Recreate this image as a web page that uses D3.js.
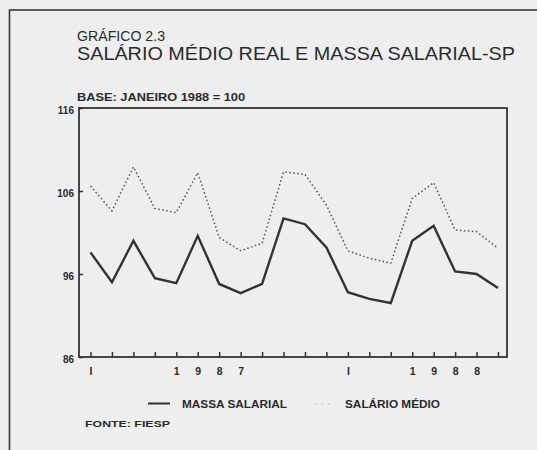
<!DOCTYPE html>
<html>
<head>
<meta charset="utf-8">
<script src="https://cdn.jsdelivr.net/npm/d3@7"></script>
<style>
  body { margin: 0; background: #eeeeee; }
  svg { display: block; }
  text { font-family: "Liberation Sans", Arial, sans-serif; fill: #2b2b2b; }
</style>
</head>
<body>
<div id="chart"></div>
<script>
// Months Jan 1987 .. Aug 1988
const months = ["jan/87","fev/87","mar/87","abr/87","mai/87","jun/87","jul/87","ago/87","set/87","out/87",
    "nov/87","dez/87","jan/88","fev/88","mar/88","abr/88","mai/88","jun/88","jul/88","ago/88"];
// Spaced-out year labels under the ticks
const tickLabels = ["I","","","","1","9","8","7","","","","","I","","","1","9","8","8",""];
const yTicks = [86, 96, 106, 116];

// Series values (index, base jan 1988 = 100)
const massaSalarial = [98.6, 95.0, 100.0, 95.5, 94.9, 100.6, 94.8, 93.7, 94.8, 102.7,
    102.0, 99.2, 93.8, 93.0, 92.5, 100.0, 101.8, 96.3, 96.0, 94.3];
const salarioMedio = [106.6, 103.6, 108.9, 103.9, 103.4, 108.2, 100.4, 98.8, 99.7, 108.3,
    108.0, 104.3, 98.8, 97.9, 97.3, 105.1, 107.0, 101.3, 101.1, 99.1];

const width = 537;
const height = 450;
const plot = { left: 79, right: 507, top: 108, bottom: 357 };

const svg = d3.select("#chart")
    .append("svg")
    .attr("width", width)
    .attr("height", height);

// outer frame (only top and left edges show in the picture)
svg.append("rect")
    .attr("x", 9.5).attr("y", 10)
    .attr("width", 600).attr("height", 600)
    .attr("fill", "none")
    .attr("stroke", "#3a3a3a")
    .attr("stroke-width", 1.6);

// titles
svg.append("text")
    .attr("x", 77).attr("y", 41)
    .style("font-size", "15px")
    .attr("textLength", 88).attr("lengthAdjust", "spacingAndGlyphs")
    .text("GRÁFICO 2.3");
svg.append("text")
    .attr("x", 77).attr("y", 60)
    .style("font-size", "18.5px")
    .attr("textLength", 438).attr("lengthAdjust", "spacingAndGlyphs")
    .text("SALÁRIO MÉDIO REAL E MASSA SALARIAL-SP");
svg.append("text")
    .attr("x", 77).attr("y", 101)
    .style("font-size", "10.5px").style("font-weight", "bold")
    .attr("textLength", 168).attr("lengthAdjust", "spacingAndGlyphs")
    .text("BASE: JANEIRO 1988 = 100");

// scales
const x = d3.scalePoint()
    .domain(months)
    .range([plot.left + 11.5, plot.right - 9]);
const y = d3.scaleLinear()
    .domain([86, 116])
    .range([plot.bottom, plot.top]);

// plot box
svg.append("rect")
    .attr("x", plot.left).attr("y", plot.top)
    .attr("width", plot.right - plot.left)
    .attr("height", plot.bottom - plot.top)
    .attr("fill", "none")
    .attr("stroke", "#333")
    .attr("stroke-width", 1.8);

// x axis: ticks point upward into the plot
const xAxis = svg.append("g")
    .attr("transform", `translate(0,${plot.bottom})`)
    .call(d3.axisBottom(x).tickSize(-5).tickPadding(11)
        .tickFormat((d, i) => tickLabels[i]));
xAxis.select(".domain").remove();
xAxis.selectAll(".tick line").attr("stroke", "#333").attr("stroke-width", 1.5);
xAxis.selectAll("text")
    .style("font-size", "10.5px").style("font-weight", "bold")
    .attr("fill", "#2b2b2b");

// y axis: small inward ticks
const yAxis = svg.append("g")
    .attr("transform", `translate(${plot.left},0)`)
    .call(d3.axisLeft(y).tickValues(yTicks).tickSize(-4).tickPadding(5));
yAxis.select(".domain").remove();
yAxis.selectAll(".tick line").attr("stroke", "#333").attr("stroke-width", 1.5);
yAxis.selectAll("text")
    .attr("dy", "0.5em")
    .style("font-size", "10px").style("font-weight", "bold")
    .attr("fill", "#2b2b2b");

const line = d3.line()
    .x((d, i) => x(months[i]))
    .y(d => y(d));

// salário médio - dotted
svg.append("path")
    .datum(salarioMedio)
    .attr("d", line)
    .attr("fill", "none")
    .attr("stroke", "#5a5a5a")
    .attr("stroke-width", 1.5)
    .attr("stroke-dasharray", "1.6,2.4");

// massa salarial - solid
svg.append("path")
    .datum(massaSalarial)
    .attr("d", line)
    .attr("fill", "none")
    .attr("stroke", "#333")
    .attr("stroke-width", 2.4)
    .attr("stroke-linejoin", "miter");

// legend
const legend = svg.append("g");
legend.append("line")
    .attr("x1", 148).attr("x2", 170).attr("y1", 403.5).attr("y2", 403.5)
    .attr("stroke", "#333").attr("stroke-width", 2);
legend.append("text")
    .attr("x", 182).attr("y", 408)
    .style("font-size", "10.5px").style("font-weight", "bold")
    .attr("textLength", 105).attr("lengthAdjust", "spacingAndGlyphs")
    .text("MASSA SALARIAL");
legend.append("line")
    .attr("x1", 315).attr("x2", 332).attr("y1", 404).attr("y2", 404)
    .attr("stroke", "#bbb").attr("stroke-width", 1.2)
    .attr("stroke-dasharray", "1.5,5");
legend.append("text")
    .attr("x", 345).attr("y", 408)
    .style("font-size", "10.5px").style("font-weight", "bold")
    .attr("textLength", 95).attr("lengthAdjust", "spacingAndGlyphs")
    .text("SALÁRIO MÉDIO");
legend.append("text")
    .attr("x", 85).attr("y", 427)
    .style("font-size", "9.5px").style("font-weight", "bold")
    .attr("textLength", 85).attr("lengthAdjust", "spacingAndGlyphs")
    .text("FONTE: FIESP");
</script>
</body>
</html>
